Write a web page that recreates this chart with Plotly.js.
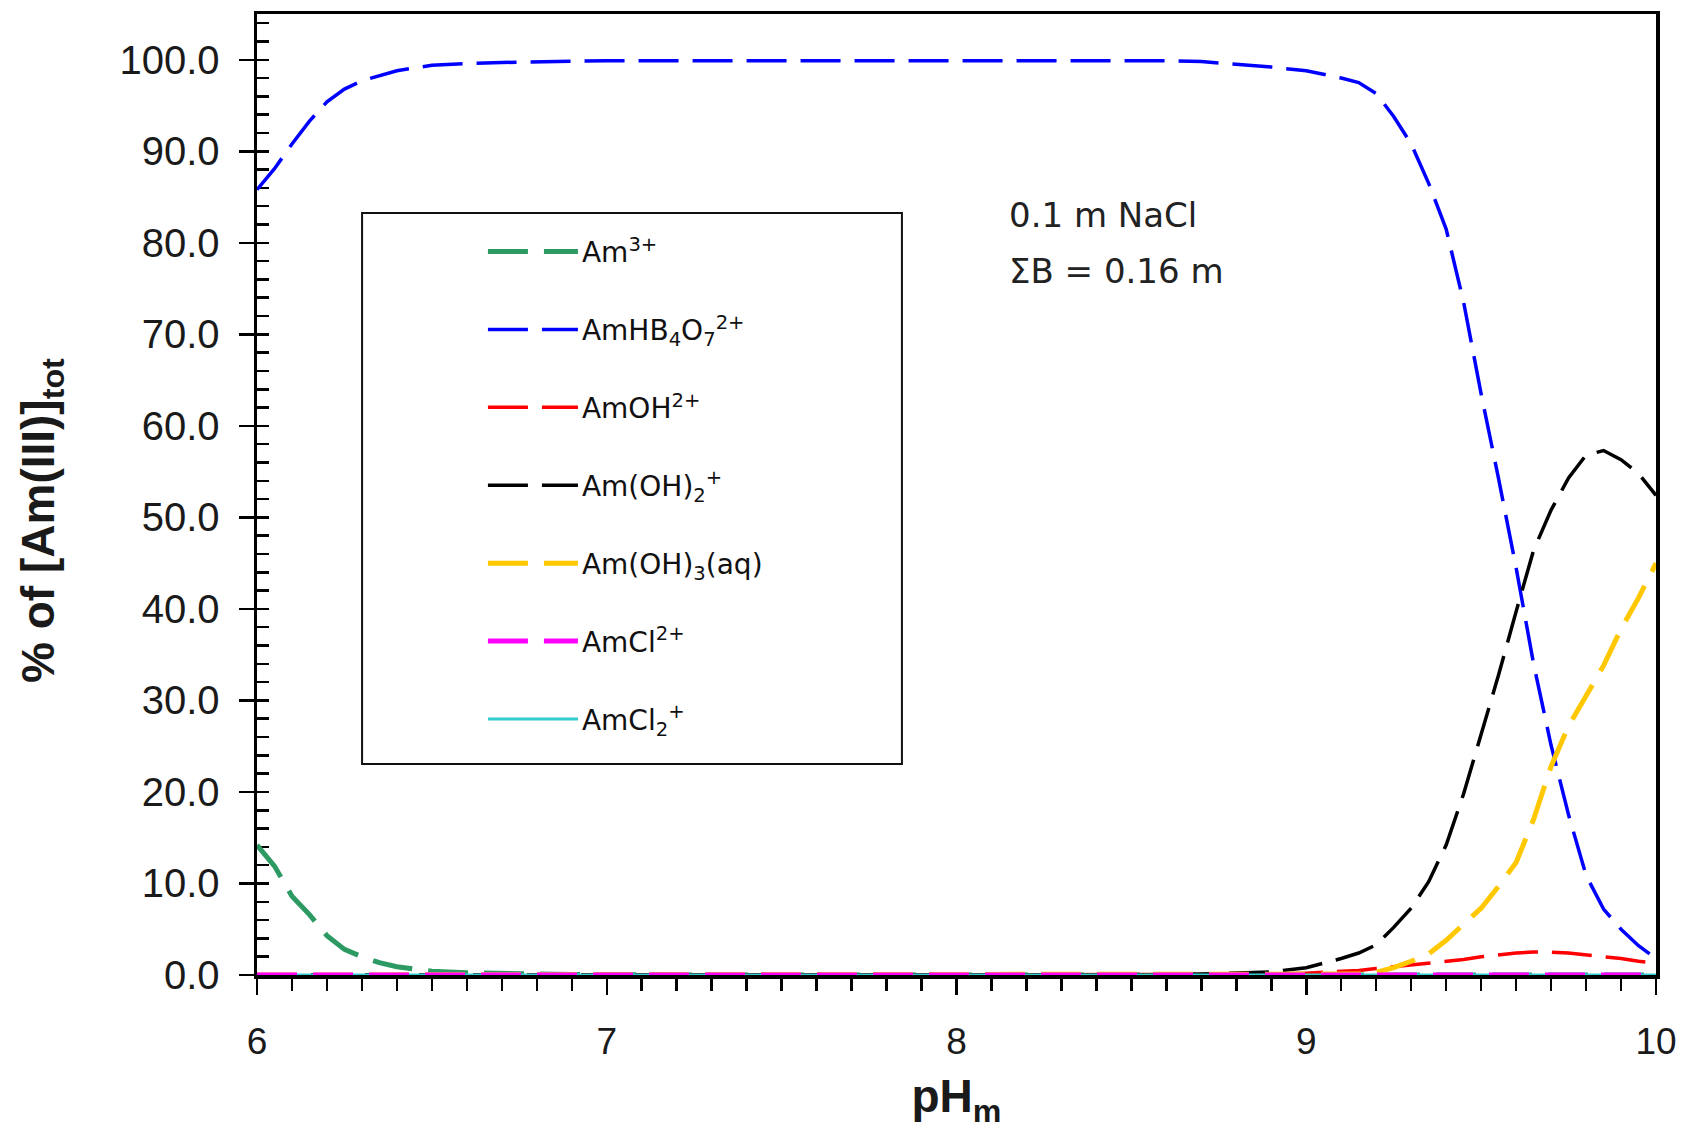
<!DOCTYPE html>
<html>
<head>
<meta charset="utf-8">
<script src="https://cdn.plot.ly/plotly-3.0.1.min.js"></script>
<style>
  html, body { margin: 0; padding: 0; background: #fff; }
  #chart { width: 1683px; height: 1129px; }
</style>
</head>
<body>
<div id="chart"></div>
<script>
// ---- data ----
const pH = [6.0, 6.05, 6.1, 6.15, 6.2, 6.25, 6.3, 6.35, 6.4,
  6.5, 6.6, 6.7, 6.8, 6.9, 7.0, 7.1, 7.2, 7.3, 7.4, 7.5, 7.6, 7.7, 7.8, 7.9,
  8.0, 8.1, 8.2, 8.3, 8.4, 8.5, 8.6, 8.7, 8.8, 8.9,
  9.0, 9.05, 9.1, 9.15, 9.2, 9.25, 9.3, 9.35, 9.4, 9.45, 9.5, 9.55, 9.6, 9.65,
  9.7, 9.75, 9.8, 9.85, 9.9, 9.95, 10.0];

const am3 = [14.2, 11.9, 8.6, 6.6, 4.3, 2.8, 2.0, 1.35, 0.9,
  0.4, 0.25, 0.15, 0.1, 0.05, 0.02, 0, 0, 0, 0, 0, 0, 0, 0, 0,
  0, 0, 0, 0, 0, 0, 0, 0, 0, 0,
  0, 0, 0, 0, 0, 0, 0, 0, 0, 0, 0, 0, 0, 0,
  0, 0, 0, 0, 0, 0, 0];

const amHB4O7 = [85.8, 88.1, 90.8, 93.3, 95.4, 96.8, 97.7, 98.3, 98.8,
  99.4, 99.6, 99.7, 99.8, 99.85, 99.9, 99.9, 99.9, 99.9, 99.9, 99.9, 99.9, 99.9, 99.9, 99.9,
  99.9, 99.9, 99.9, 99.9, 99.9, 99.9, 99.9, 99.8, 99.5, 99.2,
  98.8, 98.4, 98.0, 97.5, 96.3, 93.8, 90.8, 86.5, 81.5, 73.5, 63.5, 54.2, 44.5, 34.0,
  25.1, 17.5, 10.9, 7.2, 5.0, 3.2, 1.8];

const amOH = [0, 0, 0, 0, 0, 0, 0, 0, 0,
  0, 0, 0, 0, 0, 0, 0, 0, 0, 0, 0, 0, 0, 0, 0,
  0, 0, 0, 0, 0, 0, 0, 0, 0, 0.05,
  0.2, 0.3, 0.4, 0.5, 0.7, 0.9, 1.1, 1.3, 1.5, 1.7, 2.0, 2.2, 2.4, 2.5,
  2.5, 2.4, 2.2, 2.0, 1.8, 1.5, 1.3];

const amOH2 = [0, 0, 0, 0, 0, 0, 0, 0, 0,
  0, 0, 0, 0, 0, 0, 0, 0, 0, 0, 0, 0, 0, 0, 0,
  0, 0, 0, 0, 0, 0, 0, 0.1, 0.2, 0.35,
  0.8, 1.3, 1.8, 2.4, 3.3, 5.2, 7.3, 10.2, 14.2, 19.8, 26.3, 32.8, 39.7, 46.4,
  50.8, 54.3, 56.8, 57.3, 56.3, 54.8, 52.4];

const amOH3 = [0, 0, 0, 0, 0, 0, 0, 0, 0,
  0, 0, 0, 0, 0, 0, 0, 0, 0, 0, 0, 0, 0, 0, 0,
  0, 0, 0, 0, 0, 0, 0, 0, 0, 0,
  0, 0, 0, 0.1, 0.3, 0.8, 1.5, 2.3, 3.8, 5.5, 7.3, 9.7, 12.3, 17.0,
  22.8, 27.2, 30.6, 33.8, 37.8, 41.2, 45.0];

const amCl = [0, 0, 0, 0, 0, 0, 0, 0, 0,
  0, 0, 0, 0, 0, 0, 0, 0, 0, 0, 0, 0, 0, 0, 0,
  0, 0, 0, 0, 0, 0, 0, 0, 0, 0,
  0, 0, 0, 0, 0, 0, 0, 0, 0, 0, 0, 0, 0, 0,
  0, 0, 0, 0, 0, 0, 0];

const amCl2 = [0, 0, 0, 0, 0, 0, 0, 0, 0,
  0, 0, 0, 0, 0, 0, 0, 0, 0, 0, 0, 0, 0, 0, 0,
  0, 0, 0, 0, 0, 0, 0, 0, 0, 0,
  0, 0, 0, 0, 0, 0, 0, 0, 0, 0, 0, 0, 0, 0,
  0, 0, 0, 0, 0, 0, 0];

const seriesNames = [
  'Am<sup>3+</sup>',
  'AmHB<sub>4</sub>O<sub>7</sub><sup>2+</sup>',
  'AmOH<sup>2+</sup>',
  'Am(OH)<sub>2</sub><sup>+</sup>',
  'Am(OH)<sub>3</sub>(aq)',
  'AmCl<sup>2+</sup>',
  'AmCl<sub>2</sub><sup>+</sup>'
];
const seriesValues = [am3, amHB4O7, amOH, amOH2, amOH3, amCl, amCl2];

const xTitle = 'pH<sub>m</sub>';
const yTitle = '% of [Am(III)]<sub>tot</sub>';
const note1 = '0.1 m NaCl';
const note2 = '\u03A3B = 0.16 m';

// ---- styles ----
const styles = [
  {color: '#2E9A63', width: 5,   dash: '40px,16px'},
  {color: '#0000FF', width: 3.5, dash: '40px,14px'},
  {color: '#FF0000', width: 3.5, dash: '40px,14px'},
  {color: '#000000', width: 3.5, dash: '40px,14px'},
  {color: '#FFC800', width: 5,   dash: '40px,16px'},
  {color: '#FF00FF', width: 5,   dash: '40px,16px'},
  {color: '#33CCCC', width: 3,   dash: 'solid'}
];

const traces = seriesNames.map((name, i) => ({
  type: 'scatter',
  mode: 'lines',
  x: pH,
  y: seriesValues[i],
  name: name,
  legendgroup: 'g' + i,
  yaxis: i === 5 ? 'y2' : 'y',
  line: {color: styles[i].color, width: styles[i].width, dash: styles[i].dash},
  cliponaxis: false,
  hoverinfo: 'skip'
}));

const layout = {
  width: 1683,
  height: 1129,
  margin: {l: 257, r: 27, t: 14, b: 154, pad: 0},
  paper_bgcolor: '#ffffff',
  plot_bgcolor: '#ffffff',
  showlegend: true,
  xaxis: {
    range: [6, 10],
    tick0: 6, dtick: 1,
    ticks: 'outside', ticklen: 16, tickwidth: 2.5, tickcolor: '#000',
    minor: {dtick: 0.1, tick0: 6, ticks: 'outside', ticklen: 12, tickwidth: 2.5, tickcolor: '#000', showgrid: false},
    showline: true, linecolor: '#000', linewidth: 3.5, mirror: true,
    showgrid: false, zeroline: false,
    tickfont: {family: 'Liberation Sans, Arial, sans-serif', size: 37, color: '#1a1a1a'},
    ticklabelstandoff: 15,
    layer: 'below traces',
    title: {text: xTitle, standoff: 37,
      font: {family: 'Liberation Sans, Arial, sans-serif', size: 46, color: '#1a1a1a', weight: 'bold'}},
    fixedrange: true
  },
  yaxis: {
    range: [0, 105],
    tick0: 0, dtick: 10,
    tickformat: '.1f',
    ticks: 'outside', ticklen: 15, tickwidth: 2.5, tickcolor: '#000',
    minor: {dtick: 2, tick0: 0, ticks: 'inside', ticklen: 12, tickwidth: 2.5, tickcolor: '#000', showgrid: false},
    showline: true, linecolor: '#000', linewidth: 3.5, mirror: true,
    showgrid: false, zeroline: false,
    tickfont: {family: 'Liberation Sans, Arial, sans-serif', size: 40, color: '#1a1a1a'},
    ticklabelstandoff: 11,
    layer: 'below traces',
    fixedrange: true
  },
  yaxis2: {
    overlaying: 'y', side: 'left',
    range: [0, 105],
    tick0: 0, dtick: 10,
    ticks: 'inside', ticklen: 12, tickwidth: 2.5, tickcolor: '#000',
    showticklabels: false, showline: false, showgrid: false, zeroline: false,
    layer: 'below traces',
    fixedrange: true
  },
  legend: {
    x: 0.1615, y: 0.7785, xanchor: 'left', yanchor: 'top',
    bgcolor: 'rgba(0,0,0,0)', borderwidth: 0,
    font: {family: 'DejaVu Sans, Verdana, sans-serif', size: 28, color: '#111'},
    itemwidth: 89,
    traceorder: 'grouped',
    tracegroupgap: 38.5
  },
  shapes: [{
    type: 'rect', xref: 'paper', yref: 'paper',
    x0: 0.0751, x1: 0.461, y0: 0.2196, y1: 0.793,
    line: {color: '#111', width: 2}, fillcolor: 'rgba(0,0,0,0)', layer: 'above'
  }],
  annotations: [
    {text: '<b>' + yTitle + '</b>', xref: 'paper', yref: 'paper', x: -0.1537, y: 0.4735,
     xanchor: 'center', yanchor: 'middle', textangle: -90, showarrow: false,
     font: {family: 'Liberation Sans, Arial, sans-serif', size: 46, color: '#1a1a1a'}},
    {text: note1, xref: 'paper', yref: 'paper', x: 0.5362, y: 0.7905,
     xanchor: 'left', yanchor: 'middle', showarrow: false,
     font: {family: 'DejaVu Sans, Verdana, sans-serif', size: 34, color: '#222'}},
    {text: note2, xref: 'paper', yref: 'paper', x: 0.5362, y: 0.7326,
     xanchor: 'left', yanchor: 'middle', showarrow: false,
     font: {family: 'DejaVu Sans, Verdana, sans-serif', size: 34, color: '#222'}}
  ]
};

const gd = document.getElementById('chart');
function widenLegendLines() {
  gd.querySelectorAll('.legend .legendlines path').forEach(p => p.setAttribute('d', 'M5,0h90'));
}
Plotly.newPlot(gd, traces, layout, {staticPlot: true, displayModeBar: false}).then(() => {
  widenLegendLines();
  gd.on('plotly_afterplot', widenLegendLines);
});
</script>
</body>
</html>
